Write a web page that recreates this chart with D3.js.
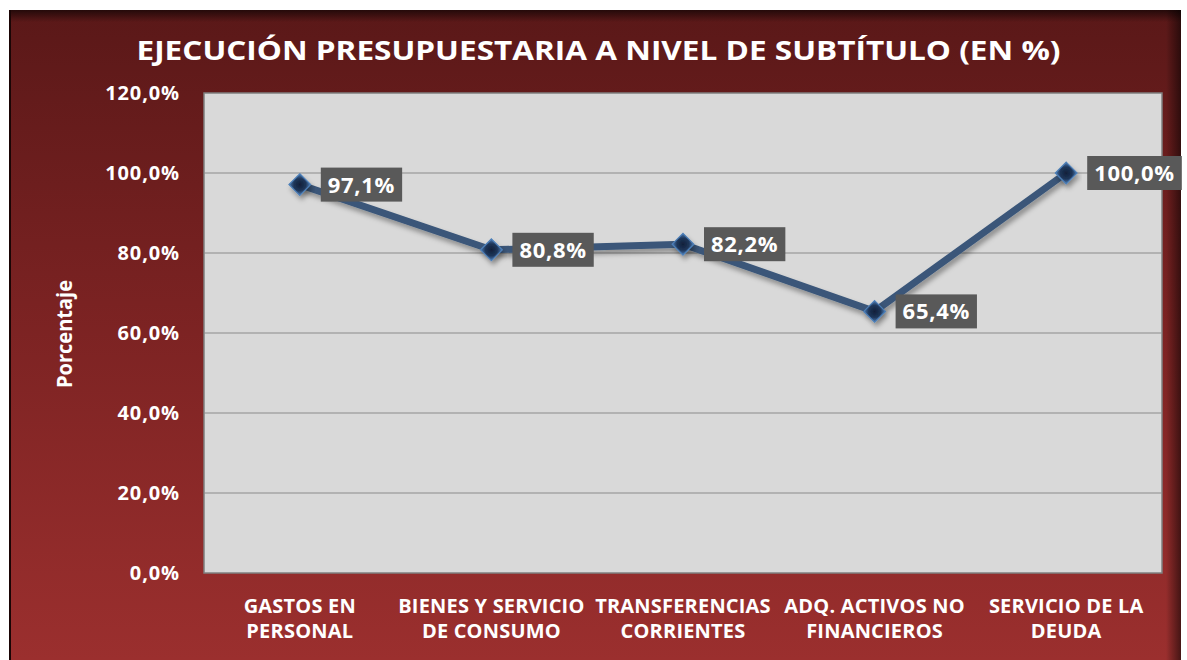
<!DOCTYPE html>
<html><head><meta charset="utf-8">
<script src="https://cdn.jsdelivr.net/npm/d3@7"></script>
<style>body{margin:0;background:#fff;}svg{display:block;}</style>
</head><body>
<script>
const categories = [["GASTOS EN","PERSONAL"],["BIENES Y SERVICIO","DE CONSUMO"],["TRANSFERENCIAS","CORRIENTES"],["ADQ. ACTIVOS NO","FINANCIEROS"],["SERVICIO DE LA","DEUDA"]];
const values = [97.1, 80.8, 82.2, 65.4, 100.0];
const labels = ["97,1%","80,8%","82,2%","65,4%","100,0%"];
const yTicks = [0,20,40,60,80,100,120];
const yTickLabels = ["0,0%","20,0%","40,0%","60,0%","80,0%","100,0%","120,0%"];
const title = "EJECUCIÓN PRESUPUESTARIA A NIVEL DE SUBTÍTULO (EN %)";
const yTitle = "Porcentaje";

const W=1187,H=660;
const svg=d3.select("body").append("svg").attr("width",W).attr("height",H);
const defs=svg.append("defs");
const bg=defs.append("linearGradient").attr("id","bg").attr("x1",0).attr("y1",0).attr("x2",0).attr("y2",1);
bg.append("stop").attr("offset","0").attr("stop-color","#5a1818");
bg.append("stop").attr("offset","0.45").attr("stop-color","#7a2222");
bg.append("stop").attr("offset","1").attr("stop-color","#9b2f2e");
const rs=defs.append("linearGradient").attr("id","rs").attr("x1",0).attr("y1",0).attr("x2",1).attr("y2",0);
rs.append("stop").attr("offset","0").attr("stop-color","#000").attr("stop-opacity",0);
rs.append("stop").attr("offset","1").attr("stop-color","#000").attr("stop-opacity",0.55);
const ts=defs.append("linearGradient").attr("id","ts").attr("x1",0).attr("y1",0).attr("x2",0).attr("y2",1);
ts.append("stop").attr("offset","0").attr("stop-color","#000").attr("stop-opacity",0.6);
ts.append("stop").attr("offset","1").attr("stop-color","#000").attr("stop-opacity",0);
const dg=defs.append("radialGradient").attr("id","dg");
dg.append("stop").attr("offset","0").attr("stop-color","#10203a");
dg.append("stop").attr("offset","0.55").attr("stop-color","#1e3558");
dg.append("stop").attr("offset","1").attr("stop-color","#4d7fb8");
const sh=defs.append("filter").attr("id","sh").attr("x","-20%").attr("y","-20%").attr("width","140%").attr("height","160%");
sh.append("feDropShadow").attr("dx",2).attr("dy",4).attr("stdDeviation",2.5).attr("flood-color","#000").attr("flood-opacity",0.35);

svg.append("rect").attr("x",9).attr("y",10).attr("width",1172).attr("height",650).attr("fill","url(#bg)");
svg.append("rect").attr("x",9).attr("y",10).attr("width",1172).attr("height",12).attr("fill","url(#ts)");
svg.append("rect").attr("x",1166).attr("y",10).attr("width",15).attr("height",650).attr("fill","url(#rs)");
svg.append("rect").attr("x",9).attr("y",10).attr("width",2).attr("height",650).attr("fill","#1a0505");

const L=204,R=1162,T=93,B=573;
const x=d3.scaleBand().domain(d3.range(categories.length)).range([L,R]);
const y=d3.scaleLinear().domain([0,120]).range([B,T]);

svg.append("rect").attr("x",L).attr("y",T).attr("width",R-L).attr("height",B-T).attr("fill","#d9d9d9").attr("stroke","#7f7f7f").attr("stroke-width",1.5);
svg.append("g").selectAll("line").data(yTicks.slice(1,-1)).join("line")
 .attr("x1",L).attr("x2",R).attr("y1",d=>y(d)).attr("y2",d=>y(d)).attr("stroke","#8c8c8c").attr("stroke-width",1.2);

const yAxis=d3.axisLeft(y).tickValues(yTicks).tickFormat((d,i)=>yTickLabels[i]).tickSize(0).tickPadding(24);
const ya=svg.append("g").attr("transform",`translate(${L},0)`).call(yAxis);
ya.select(".domain").remove();
ya.selectAll("text").attr("fill","#fff").attr("font-family","'Open Sans',sans-serif").attr("font-weight","bold").attr("font-size",20).attr("letter-spacing",0.9);

const xa=svg.append("g");
categories.forEach((c,i)=>{
  const t=xa.append("text").attr("x",x(i)+x.bandwidth()/2).attr("y",613).attr("text-anchor","middle")
   .attr("fill","#fff").attr("font-family","'Open Sans',sans-serif").attr("font-weight","bold").attr("font-size",20).attr("letter-spacing",0.2);
  t.append("tspan").attr("x",x(i)+x.bandwidth()/2).attr("dy",0).text(c[0]);
  t.append("tspan").attr("x",x(i)+x.bandwidth()/2).attr("dy",25).text(c[1]);
});

svg.append("text").attr("x",W/2+5).attr("y",60).attr("text-anchor","middle").attr("fill","#fff")
 .attr("font-family","'Open Sans',sans-serif").attr("font-weight","bold").attr("font-size",26)
 .attr("textLength",924).attr("lengthAdjust","spacingAndGlyphs").text(title);

svg.append("text").attr("transform","translate(72,334) rotate(-90)").attr("text-anchor","middle").attr("fill","#fff")
 .attr("font-family","'Open Sans',sans-serif").attr("font-weight","bold").attr("font-size",22)
 .attr("textLength",108).attr("lengthAdjust","spacingAndGlyphs").text(yTitle);

const cx=i=>x(i)+x.bandwidth()/2;
const line=d3.line().x((d,i)=>cx(i)).y(d=>y(d));
svg.append("path").datum(values).attr("d",line).attr("fill","none").attr("stroke","#3a5679").attr("stroke-width",7)
 .attr("stroke-linejoin","round").attr("filter","url(#sh)");

svg.append("g").selectAll("path").data(values).join("path")
 .attr("d",d3.symbol().type(d3.symbolDiamond2).size(300))
 .attr("transform",(d,i)=>`translate(${cx(i)},${y(d)})`)
 .attr("fill","url(#dg)").attr("stroke","#4d7fb8").attr("stroke-width",1.2).attr("filter","url(#sh)");

const lg=svg.append("g");
values.forEach((v,i)=>{
  const g=lg.append("g").attr("transform",`translate(${cx(i)+21},${y(v)})`);
  const t=g.append("text").attr("x",7).attr("y",8).attr("fill","#fff").attr("font-family","'Open Sans',sans-serif")
   .attr("font-weight","bold").attr("font-size",22).attr("letter-spacing",0.7).text(labels[i]);
  const w=t.node().getComputedTextLength();
  g.insert("rect","text").attr("x",0).attr("y",-17).attr("width",w+14).attr("height",34).attr("fill","#595959");
});
</script>
</body></html>
